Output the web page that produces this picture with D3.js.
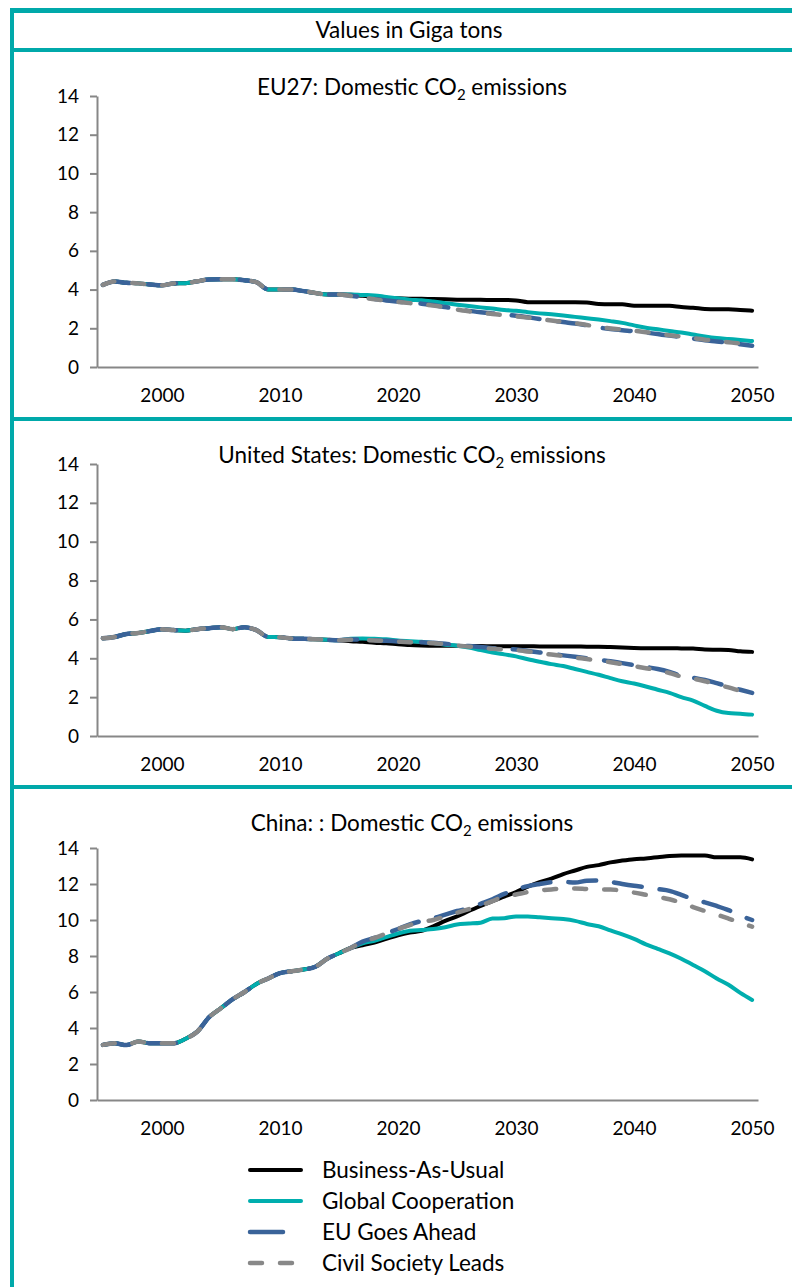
<!DOCTYPE html>
<html>
<head>
<meta charset="utf-8">
<script src="https://cdn.jsdelivr.net/npm/d3@7"></script>
<style>
  html, body { margin: 0; padding: 0; background: #fff; }
  svg { display: block; }
  text { font-family: Lato, "Open Sans", "DejaVu Sans", sans-serif; fill: #000; }
</style>
</head>
<body>
<svg id="chart" width="792" height="1287"></svg>
<script>
// ---------------- DATA ----------------
const years = d3.range(1995, 2051);
const xTickYears = [2000, 2010, 2020, 2030, 2040, 2050];
const yTicks = [0, 2, 4, 6, 8, 10, 12, 14];
const headerText = "Values in Giga tons";
const seriesNames = ["Business-As-Usual", "Global Cooperation", "EU Goes Ahead", "Civil Society Leads"];

// EU27 (1995-2050)
const euHist = [4.24,4.42,4.35,4.32,4.26,4.22,4.32,4.33,4.43,4.52,4.53,4.53,4.48,4.38,4.01,4.01,4.0,3.92,3.82,3.75,3.75];
const euBAU = euHist.concat([3.73,3.68,3.63,3.58,3.55,3.53,3.52,3.51,3.5,3.48,3.47,3.47,3.46,3.46,3.44,3.35,3.34,3.34,3.34,3.34,3.33,3.25,3.24,3.24,3.17,3.17,3.17,3.16,3.1,3.06,3.0,2.98,2.98,2.95,2.91]);
const euGC  = euHist.concat([3.75,3.72,3.7,3.62,3.55,3.48,3.45,3.38,3.3,3.22,3.15,3.08,3.02,2.95,2.9,2.83,2.77,2.72,2.66,2.59,2.52,2.45,2.37,2.28,2.15,2.03,1.95,1.86,1.78,1.68,1.58,1.5,1.45,1.4,1.34]);
const euEU  = euHist.concat([3.68,3.6,3.52,3.44,3.38,3.32,3.27,3.2,3.1,2.99,2.9,2.83,2.77,2.71,2.65,2.57,2.48,2.4,2.32,2.25,2.15,2.04,1.96,1.9,1.85,1.78,1.7,1.62,1.55,1.47,1.38,1.32,1.25,1.17,1.1]);
const euCS  = euHist.concat([3.67,3.59,3.5,3.42,3.36,3.3,3.24,3.17,3.08,2.97,2.88,2.8,2.74,2.68,2.62,2.55,2.47,2.4,2.33,2.26,2.17,2.07,1.99,1.93,1.87,1.8,1.72,1.64,1.57,1.5,1.41,1.35,1.28,1.21,1.15]);

// United States
const usHist = [5.03,5.1,5.25,5.3,5.4,5.5,5.45,5.42,5.5,5.55,5.6,5.5,5.6,5.45,5.1,5.08,5.02,5.0,4.98,4.95,4.93];
const usBAU = usHist.concat([4.88,4.85,4.8,4.77,4.72,4.68,4.66,4.65,4.65,4.64,4.63,4.63,4.62,4.62,4.62,4.62,4.61,4.61,4.61,4.61,4.6,4.6,4.58,4.55,4.53,4.52,4.52,4.52,4.51,4.5,4.45,4.44,4.43,4.36,4.33]);
const usGC  = usHist.concat([5.0,5.02,5.0,4.98,4.92,4.88,4.85,4.78,4.7,4.65,4.55,4.42,4.3,4.2,4.1,3.95,3.82,3.7,3.6,3.45,3.3,3.15,2.98,2.82,2.7,2.55,2.38,2.22,2.0,1.82,1.55,1.3,1.18,1.15,1.1]);
const usEU  = usHist.concat([4.97,4.95,4.93,4.9,4.87,4.84,4.82,4.8,4.75,4.68,4.63,4.58,4.52,4.48,4.45,4.38,4.3,4.22,4.15,4.08,4.0,3.92,3.85,3.75,3.65,3.55,3.45,3.3,3.1,3.0,2.88,2.72,2.55,2.38,2.22]);
const usCS  = usHist.concat([4.96,4.94,4.92,4.89,4.86,4.83,4.81,4.78,4.73,4.66,4.6,4.55,4.49,4.45,4.42,4.35,4.27,4.19,4.12,4.04,3.96,3.88,3.8,3.7,3.6,3.49,3.38,3.24,3.06,2.95,2.82,2.66,2.5,2.32,2.15]);

// China
const cnHist = [3.06,3.15,3.05,3.25,3.15,3.15,3.15,3.4,3.8,4.6,5.1,5.6,6.0,6.45,6.75,7.05,7.15,7.25,7.4,7.85,8.15,8.45];
const cnBAU = cnHist.concat([8.6,8.75,8.95,9.15,9.3,9.4,9.65,9.95,10.2,10.5,10.78,11.05,11.3,11.55,11.85,12.1,12.3,12.55,12.75,12.95,13.05,13.2,13.3,13.38,13.42,13.48,13.55,13.58,13.58,13.58,13.48,13.48,13.48,13.37]);
const cnGC  = cnHist.concat([8.7,8.85,9.05,9.25,9.4,9.45,9.5,9.6,9.75,9.8,9.85,10.08,10.1,10.2,10.2,10.15,10.1,10.05,9.95,9.78,9.65,9.42,9.2,8.95,8.65,8.4,8.15,7.85,7.5,7.15,6.75,6.4,5.95,5.56]);
const cnEU  = cnHist.concat([8.8,9.0,9.25,9.5,9.75,9.95,10.1,10.3,10.5,10.65,10.9,11.15,11.45,11.7,11.88,12.0,12.1,12.12,12.08,12.18,12.2,12.12,12.0,11.9,11.82,11.72,11.62,11.4,11.15,10.98,10.78,10.55,10.25,10.0]);
const cnCS  = cnHist.concat([8.8,9.0,9.25,9.5,9.72,9.9,10.0,10.2,10.4,10.6,10.8,11.05,11.3,11.42,11.55,11.65,11.7,11.75,11.75,11.72,11.7,11.7,11.62,11.52,11.4,11.28,11.15,10.96,10.72,10.5,10.3,10.08,9.85,9.63]);

const panelTitles = [
  ["EU27: Domestic CO", "2", " emissions"],
  ["United States: Domestic CO", "2", " emissions"],
  ["China: : Domestic CO", "2", " emissions"]
];
const panelData = [
  [euBAU, euGC, euEU, euCS],
  [usBAU, usGC, usEU, usCS],
  [cnBAU, cnGC, cnEU, cnCS]
];

// ---------------- STYLE / LAYOUT ----------------
const frameColor = "#00A9AA";
const axisColor = "#878787";
const styles = [
  { color: "#000000", width: 4,   dash: null,    legendDash: null },
  { color: "#00AEAE", width: 4,   dash: null,    legendDash: null },
  { color: "#3A6399", width: 4.5, dash: "28,18", legendDash: "33,40" },
  { color: "#888888", width: 4.5, dash: "12,18", legendDash: "12,18" }
];
const panels = [
  { top: 96,  bottom: 367,  titleY: 95 },
  { top: 464, bottom: 736,  titleY: 463 },
  { top: 848, bottom: 1100, titleY: 831 }
];
const plotLeft = 97, plotRight = 758;
const textSize = "22.5px", tickSize = "19px";

const svg = d3.select("#chart");
svg.append("rect").attr("width", 792).attr("height", 1287).attr("fill", "#fff");

// frame
const frame = svg.append("g");
frame.append("rect").attr("x", 10).attr("y", 8).attr("width", 782).attr("height", 5).attr("fill", frameColor);
frame.append("rect").attr("x", 10).attr("y", 48).attr("width", 782).attr("height", 4).attr("fill", frameColor);
frame.append("rect").attr("x", 10).attr("y", 417).attr("width", 782).attr("height", 4).attr("fill", frameColor);
frame.append("rect").attr("x", 10).attr("y", 785).attr("width", 782).attr("height", 4).attr("fill", frameColor);
frame.append("rect").attr("x", 10).attr("y", 8).attr("width", 4).attr("height", 1279).attr("fill", frameColor);

svg.append("text").attr("x", 409).attr("y", 38).attr("text-anchor", "middle")
  .style("font-size", textSize).text(headerText);

const x = d3.scalePoint().domain(years).range([plotLeft, plotRight]).padding(0.5);

panels.forEach((p, i) => {
  const g = svg.append("g");
  const y = d3.scaleLinear().domain([0, 14]).range([p.bottom, p.top]);

  // title
  const t = g.append("text").attr("x", 412).attr("y", p.titleY).attr("text-anchor", "middle")
    .style("font-size", textSize);
  t.append("tspan").text(panelTitles[i][0]);
  t.append("tspan").attr("dy", 5).style("font-size", "15px").text(panelTitles[i][1]);
  t.append("tspan").attr("dy", -5).text(panelTitles[i][2]);

  // y axis
  const ya = g.append("g").attr("transform", `translate(${plotLeft},0)`)
    .call(d3.axisLeft(y).tickValues(yTicks).tickSize(7).tickSizeOuter(0).tickPadding(11));
  ya.select(".domain").attr("stroke", axisColor).attr("stroke-width", 2);
  ya.selectAll(".tick line").attr("stroke", axisColor).attr("stroke-width", 2);
  ya.selectAll(".tick text").style("font-size", tickSize).style("font-family", "Lato, sans-serif").attr("fill", "#000");

  // x axis
  const xa = g.append("g").attr("transform", `translate(0,${p.bottom})`)
    .call(d3.axisBottom(x).tickValues(xTickYears).tickSize(0).tickSizeOuter(0).tickPadding(22));
  xa.select(".domain").attr("stroke", axisColor).attr("stroke-width", 2);
  xa.selectAll(".tick text").style("font-size", tickSize).style("font-family", "Lato, sans-serif").attr("fill", "#000");

  // lines
  const line = d3.line().x((d, k) => x(years[k])).y(d => y(d)).curve(d3.curveMonotoneX);
  panelData[i].forEach((s, j) => {
    const st = styles[j];
    g.append("path").datum(s).attr("d", line)
      .attr("fill", "none").attr("stroke", st.color).attr("stroke-width", st.width)
      .attr("stroke-linecap", "round").attr("stroke-linejoin", "round")
      .attr("stroke-dasharray", st.dash);
  });
});

// legend
const legend = svg.append("g");
const legY = [1170, 1201, 1232, 1263];
seriesNames.forEach((name, j) => {
  const st = styles[j];
  legend.append("line").attr("x1", 250).attr("x2", 301).attr("y1", legY[j]).attr("y2", legY[j])
    .attr("stroke", st.color).attr("stroke-width", st.width)
    .attr("stroke-linecap", "round").attr("stroke-dasharray", st.legendDash);
  legend.append("text").attr("x", 322).attr("y", legY[j]).attr("dy", "0.35em")
    .style("font-size", textSize).text(name);
});
</script>
</body>
</html>
